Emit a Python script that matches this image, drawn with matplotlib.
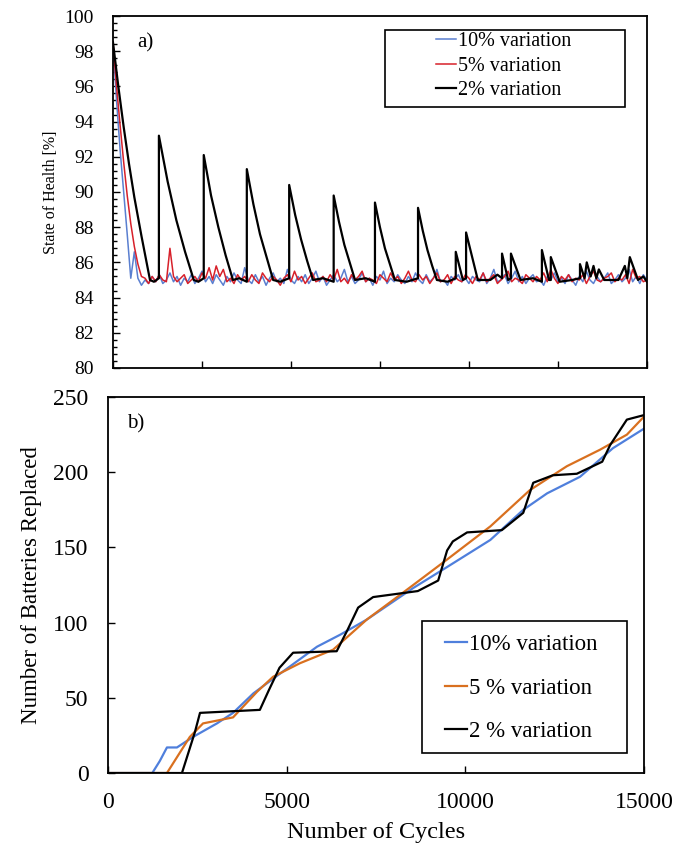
import numpy as np
import matplotlib
matplotlib.use("Agg")
import matplotlib.pyplot as plt
from matplotlib.ticker import MultipleLocator, AutoMinorLocator
from matplotlib.patches import Rectangle

plt.rcParams["font.family"] = ["Liberation Serif", "DejaVu Serif"]

# ---- panel a) state of health, sampled every 100 cycles ----
cycles_a = np.arange(0, 15001, 100)

soh_10 = [98.5, 95.2, 92.4, 90.0, 87.6, 85.1,
          86.6, 85.1, 84.7, 85.0, 84.8, 85.2, 84.9, 85.3, 84.8, 85.0,
          85.4, 84.9, 85.2, 84.7, 85.1, 84.9, 85.3, 84.8, 85.1, 85.5,
          84.9, 85.2, 84.8, 85.3, 85.0, 84.7, 85.2, 84.9, 85.4, 85.0,
          84.8, 85.7, 85.0, 84.8, 85.3, 84.9, 85.2, 84.7, 85.1, 85.4,
          84.9, 85.1, 84.8, 85.6, 85.0, 84.8, 85.2, 84.9, 85.3, 84.8,
          85.1, 85.5, 84.9, 85.2, 84.7, 85.0, 85.3, 84.9, 85.1, 85.6,
          84.9, 85.2, 84.8, 85.0, 85.4, 84.9, 85.1, 84.7, 85.2, 85.0,
          85.5, 84.8, 85.1, 84.9, 85.3, 85.0, 84.8, 85.2, 84.9, 85.4,
          85.0, 84.8, 85.3, 84.9, 85.1, 85.6, 84.9, 85.0, 84.7, 85.2,
          85.0, 85.3, 84.9, 85.1, 84.8, 85.2, 85.0, 84.9, 85.4, 84.8,
          85.1, 85.6, 84.9, 85.0, 85.3, 84.8, 85.1, 85.5, 84.9, 85.2,
          84.8, 85.1, 85.3, 84.9, 85.0, 84.7, 85.2, 85.0, 85.4, 84.9,
          85.1, 84.8, 85.3, 85.0, 84.7, 85.2, 84.9, 85.5, 85.0, 84.8,
          85.2, 84.9, 85.1, 85.4, 84.8, 85.0, 85.3, 84.9, 85.1, 85.6,
          84.9, 85.2, 84.8, 85.3, 85.0]

soh_5 = [98.5, 96.0, 93.8, 91.7, 89.8, 88.2, 86.9, 85.9, 85.2,
         85.1, 84.8, 85.2, 84.9, 85.3, 85.0, 84.9, 86.8, 85.2, 84.9,
         85.1, 85.3, 84.8, 85.0, 85.2, 84.9, 85.4, 85.1, 85.7, 85.0,
         85.8, 85.2, 85.6, 84.9, 85.1, 84.8, 85.3, 85.0, 85.2, 84.9,
         85.3, 85.0, 84.8, 85.4, 85.1, 84.9, 85.2, 85.0, 84.7, 85.1,
         85.3, 84.9, 85.5, 85.0, 85.2, 84.8, 85.1, 85.4, 84.9, 85.0,
         85.2, 84.9, 85.3, 85.0, 85.6, 84.9, 85.1, 84.8, 85.3, 85.0,
         85.2, 85.5, 84.9, 85.1, 85.0, 84.8, 85.3, 85.1, 84.9, 85.4,
         85.0, 85.2, 84.8, 85.1, 85.5, 85.0, 84.9, 85.3, 85.0, 85.2,
         84.8, 85.1, 85.4, 84.9, 85.0, 85.3, 84.8, 85.2, 85.0, 84.9,
         85.3, 85.1, 84.8, 85.2, 85.0, 85.4, 84.9, 85.1, 85.3, 84.8,
         85.0, 85.2, 85.5, 84.9, 85.1, 85.0, 84.8, 85.3, 85.1, 84.9,
         85.2, 85.0, 85.4, 84.9, 85.6, 85.1, 84.8, 85.2, 85.0, 85.3,
         84.9, 85.1, 85.0, 85.3, 84.8, 85.2, 85.5, 85.0, 84.9, 85.1,
         85.2, 85.4, 84.9, 85.1, 85.0, 85.3, 84.8, 85.6, 85.1, 85.2,
         84.9, 85.0]

# 2% variation: sawtooth knots (cycle, SOH)
cyc_2 = [0, 150, 300, 450, 600, 800, 1040, 1150, 1290,
         1290, 1535, 1780, 2025, 2270, 2400, 2550,
         2550, 2755, 2960, 3165, 3370, 3550, 3760,
         3760, 3945, 4130, 4315, 4500, 4700, 4950,
         4950, 5118, 5285, 5453, 5620, 5900, 6200,
         6200, 6350, 6500, 6650, 6800, 7100, 7360,
         7360, 7500, 7640, 7780, 7920, 8250, 8570,
         8570, 8703, 8835, 8968, 9100, 9400, 9630,
         9630, 9830, 9920, 9920, 10250, 10600, 10800, 10930, 10930,
         11100, 11180, 11180, 11450, 11800, 12050, 12050, 12250, 12300, 12300, 12550,
         12900, 13120, 13120, 13250, 13310, 13420, 13500, 13580, 13650, 13800, 14200,
         14380, 14450, 14520, 14750, 14900, 15000]
soh_2 = [98.5, 96.0, 93.7, 91.6, 89.7, 87.5, 85.0, 84.9, 85.1,
         93.2, 90.6, 88.4, 86.6, 85.0, 84.9, 85.1,
         92.1, 89.8, 88.0, 86.4, 85.0, 85.1, 84.9,
         91.3, 89.3, 87.6, 86.3, 85.0, 84.9, 85.1,
         90.4, 88.7, 87.3, 86.1, 85.0, 85.1, 84.9,
         89.8, 88.3, 87.0, 86.0, 85.0, 85.1, 84.9,
         89.4, 88.0, 86.8, 85.9, 85.0, 84.9, 85.1,
         89.1, 87.8, 86.7, 85.8, 85.0, 84.9, 85.1,
         86.6, 85.0, 85.1, 87.7, 85.0, 85.0, 85.3, 85.1, 86.5,
         85.0, 85.1, 86.5, 85.0, 85.1, 84.9, 86.7, 85.0, 85.0, 86.3, 84.9,
         85.0, 85.1, 85.9, 85.1, 86.0, 85.2, 85.8, 85.1, 85.6, 85.0, 85.0,
         85.8, 85.1, 86.3, 85.0, 85.2, 84.9]

# ---- panel b) cumulative batteries replaced ----
cyc_b10 = [0, 1240, 1450, 1650, 1930, 2380, 3050, 3500, 4070, 4810, 5850, 6500, 7240,
           8540, 9490, 10700, 11620, 12290, 13210, 14130, 15000]
rep_b10 = [0, 0, 8, 17, 17, 24, 33, 40, 53, 66, 84, 92, 102,
           123, 137, 155, 175, 186, 197, 216, 229]
cyc_b5 = [0, 1650, 2290, 2660, 3500, 4170, 4620, 5370, 6300, 7240, 8090, 8540, 9490,
          10700, 11800, 12840, 13770, 14520, 15000]
rep_b5 = [0, 0, 24, 33, 37, 54, 64, 73, 82, 102, 117, 125, 142,
          164, 188, 204, 215, 225, 237]
cyc_b2 = [0, 2070, 2430, 2575, 4250, 4500, 4800, 5180, 6400, 6700, 7000, 7420, 8670,
          9240, 9490, 9650, 10050, 11020, 11620, 11900, 12450, 13120, 13830, 14050,
          14520, 15000]
rep_b2 = [0, 0, 27, 40, 42, 55, 70, 80, 81, 95, 110, 117, 121,
          128, 148, 154, 160, 161.5, 173, 193, 198, 199, 207, 218, 235, 238]

fig = plt.figure(figsize=(6.86, 8.43), dpi=100)
ax1 = fig.add_axes([0.1647, 0.5635, 0.7783, 0.4175])
ax2 = fig.add_axes([0.1574, 0.083, 0.7814, 0.446])

ax1.plot(cycles_a, soh_10, color="#5a7fd0", lw=1.1, label="10% variation")
ax1.plot(cycles_a, soh_5, color="#d7202a", lw=1.1, label="5% variation")
ax1.plot(cyc_2, soh_2, color="black", lw=1.6, label="2% variation")
ax1.set_xlim(0, 15000)
ax1.set_ylim(80, 100)
ax1.xaxis.set_major_locator(MultipleLocator(2500))
ax1.yaxis.set_major_locator(MultipleLocator(2))
ax1.yaxis.set_minor_locator(AutoMinorLocator(5))
ax1.set_xticklabels([])
ax1.tick_params(direction="in", length=5, width=1, labelsize=14, top=False, right=False, pad=14)
ax1.tick_params(which="minor", direction="in", length=3, width=1)
ax1.set_ylabel("State of Health [%]", fontsize=11.5, labelpad=4)
ax1.text(0.045, 0.95, "a)", transform=ax1.transAxes, fontsize=15, va="top")
ax1.add_patch(Rectangle((0.509, 0.741), 0.45, 0.219, transform=ax1.transAxes,
                        fill=False, edgecolor="black", lw=1.2, zorder=5))
ax1.legend(loc="upper left", bbox_to_anchor=(0.605, 0.955), fontsize=14.5,
           handlelength=1.0, handletextpad=0.1, labelspacing=0.28,
           borderpad=0, borderaxespad=0, frameon=False)

ax2.plot(cyc_b10, rep_b10, color="#4f7fdc", lw=1.6, label="10% variation")
ax2.plot(cyc_b5, rep_b5, color="#d9701f", lw=1.6, label="5 % variation")
ax2.plot(cyc_b2, rep_b2, color="black", lw=1.6, label="2 % variation")
ax2.set_xlim(0, 15000)
ax2.set_ylim(0, 250)
ax2.xaxis.set_major_locator(MultipleLocator(5000))
ax2.yaxis.set_major_locator(MultipleLocator(50))
ax2.tick_params(direction="in", length=5, width=1, labelsize=17, top=False, right=False)
ax2.tick_params(axis="y", pad=14)
ax2.tick_params(axis="x", pad=14)
ax2.set_xlabel("Number of Cycles", fontsize=17.5, labelpad=6)
ax2.set_ylabel("Number of Batteries Replaced", fontsize=16.5, labelpad=8)
ax2.text(0.035, 0.955, "b)", transform=ax2.transAxes, fontsize=15, va="top")
ax2.add_patch(Rectangle((0.586, 0.053), 0.382, 0.351, transform=ax2.transAxes,
                        fill=False, edgecolor="black", lw=1.2, zorder=5))
ax2.legend(loc="upper left", bbox_to_anchor=(0.629, 0.369), fontsize=16.5,
           handlelength=0.95, handletextpad=0.1, labelspacing=0.97,
           borderpad=0, borderaxespad=0, frameon=False)

for ax in (ax1, ax2):
    for s in ax.spines.values():
        s.set_linewidth(1.3)

fig.savefig("out.png", dpi=100)
